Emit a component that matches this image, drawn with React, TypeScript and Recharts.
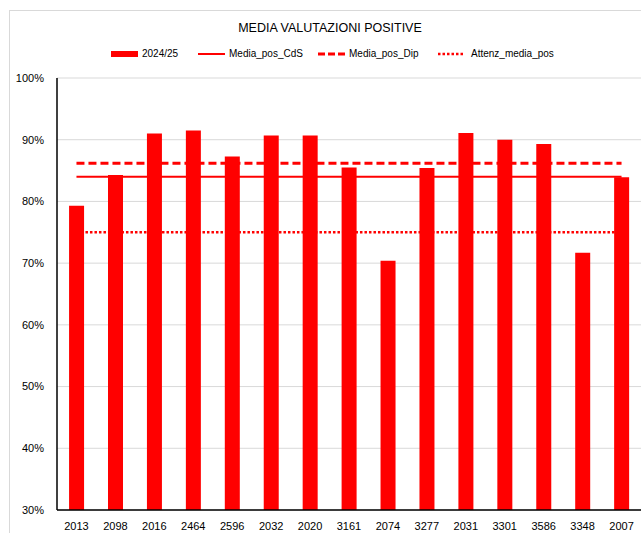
import React from "react";
import {
  ComposedChart,
  Bar,
  Line,
  XAxis,
  YAxis,
  CartesianGrid,
} from "recharts";

// course codes on the x axis
const codes = [
  "2013", "2098", "2016", "2464", "2596", "2032", "2020", "3161",
  "2074", "3277", "2031", "3301", "3586", "3348", "2007",
];

// 2024/25 share of positive ratings per course
const positive2425 = [
  0.793, 0.843, 0.91, 0.915, 0.873, 0.907, 0.907, 0.855,
  0.704, 0.854, 0.911, 0.9, 0.893, 0.717, 0.839,
];

// reference levels
const mediaPosCdS = 0.84;
const mediaPosDip = 0.862;
const attenzMediaPos = 0.75;

const yTicks = [0.3, 0.4, 0.5, 0.6, 0.7, 0.8, 0.9, 1.0];

const RED = "#ff0000";
const FONT = "'Liberation Sans', Arial, sans-serif";

const data = codes.map((code, i) => ({
  code,
  val: positive2425[i],
  cds: mediaPosCdS,
  dip: mediaPosDip,
  att: attenzMediaPos,
}));

function pct(v: number) {
  return `${Math.round(v * 100)}%`;
}

// legend entries, with the x where each one starts
const legendItems = [
  { label: "2024/25", kind: "bar", x: 111 },
  { label: "Media_pos_CdS", kind: "solid", x: 198 },
  { label: "Media_pos_Dip", kind: "dash", x: 318 },
  { label: "Attenz_media_pos", kind: "dot", x: 438 },
];

function Swatch({ kind }: { kind: string }) {
  return (
    <svg width={27} height={8} style={{ display: "block" }}>
      {kind === "bar" && <rect x={0} y={1} width={27} height={6} fill={RED} />}
      {kind === "solid" && <line x1={0} y1={4} x2={27} y2={4} stroke={RED} strokeWidth={2} />}
      {kind === "dash" && (
        <line x1={0} y1={4} x2={27} y2={4} stroke={RED} strokeWidth={3} strokeDasharray="7 3" />
      )}
      {kind === "dot" && (
        <line x1={0} y1={4} x2={25} y2={4} stroke={RED} strokeWidth={2.5} strokeDasharray="2.5 2" />
      )}
    </svg>
  );
}

export default function App() {
  return (
    <div
      style={{
        position: "absolute",
        left: 0,
        top: 0,
        width: 641,
        height: 533,
        background: "#fff",
        overflow: "hidden",
      }}
    >
      {/* chart area border */}
      <div
        style={{
          position: "absolute",
          left: 9,
          top: 10,
          width: 650,
          height: 550,
          border: "1px solid #d9d9d9",
          boxSizing: "border-box",
        }}
      />
      <div
        style={{
          position: "absolute",
          left: 0,
          top: 21,
          width: 660,
          textAlign: "center",
          fontFamily: FONT,
          fontSize: 12.5,
          color: "#000",
        }}
      >
        MEDIA VALUTAZIONI POSITIVE
      </div>
      {legendItems.map((it) => (
        <div
          key={it.label}
          style={{
            position: "absolute",
            left: it.x,
            top: 47,
            display: "flex",
            alignItems: "center",
            gap: it.kind === "dot" ? 6 : 4,
            fontFamily: FONT,
            fontSize: 10,
            lineHeight: "14px",
            color: "#000",
            whiteSpace: "nowrap",
          }}
        >
          <Swatch kind={it.kind} />
          {it.label}
        </div>
      ))}
      <ComposedChart
        width={641}
        height={533}
        data={data}
        margin={{ top: 78, right: 0, left: 0, bottom: 0 }}
        barCategoryGap="31%"
        style={{ position: "absolute", left: 0, top: 0 }}
      >
        <CartesianGrid vertical={false} stroke="#d9d9d9" strokeWidth={1} />
        <XAxis
          dataKey="code"
          height={23}
          axisLine={{ stroke: "#000", strokeWidth: 1.5 }}
          tickLine={false}
          tickSize={6}
          tickMargin={6}
          interval={0}
          tick={{ fontSize: 11, fill: "#000", fontFamily: FONT }}
        />
        <YAxis
          domain={[0.3, 1]}
          ticks={yTicks}
          tickFormatter={pct}
          width={57}
          axisLine={{ stroke: "#000", strokeWidth: 1.5 }}
          tickLine={false}
          tickSize={6}
          tickMargin={7}
          allowDataOverflow
          tick={{ fontSize: 11, fill: "#000", fontFamily: FONT }}
        />
        <Bar dataKey="val" name="2024/25" fill={RED} isAnimationActive={false} />
        <Line
          dataKey="cds"
          name="Media_pos_CdS"
          stroke={RED}
          strokeWidth={2}
          dot={false}
          activeDot={false}
          isAnimationActive={false}
        />
        <Line
          dataKey="dip"
          name="Media_pos_Dip"
          stroke={RED}
          strokeWidth={3}
          strokeDasharray="8 4"
          dot={false}
          activeDot={false}
          isAnimationActive={false}
        />
        <Line
          dataKey="att"
          name="Attenz_media_pos"
          stroke={RED}
          strokeWidth={2.5}
          strokeDasharray="2.5 2"
          dot={false}
          activeDot={false}
          isAnimationActive={false}
        />
      </ComposedChart>
    </div>
  );
}
